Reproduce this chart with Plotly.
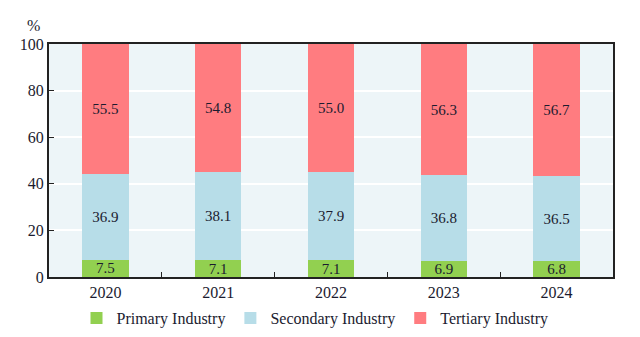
import plotly.graph_objects as go

years = ["2020", "2021", "2022", "2023", "2024"]
primary = [7.5, 7.1, 7.1, 6.9, 6.8]
secondary = [36.9, 38.1, 37.9, 36.8, 36.5]
tertiary = [55.5, 54.8, 55.0, 56.3, 56.7]

font_family = "Liberation Serif"
text_color = "#1b1b2f"

fig = go.Figure()
for name, vals, color in [
    ("Primary Industry", primary, "#92d050"),
    ("Secondary Industry", secondary, "#b7dde8"),
    ("Tertiary Industry", tertiary, "#ff7c80"),
]:
    fig.add_trace(go.Bar(
        x=years, y=vals, name=name, marker=dict(color=color, line=dict(width=0)),
        text=[f"{v:.1f}" for v in vals], textposition="inside", insidetextanchor="middle",
        textfont=dict(family=font_family, size=15, color=text_color),
        constraintext="none", textangle=0,
        width=0.41, cliponaxis=False,
    ))

fig.update_layout(
    barmode="stack",
    width=640, height=337,
    margin=dict(l=49, r=27, t=44, b=60, autoexpand=False),
    paper_bgcolor="white",
    plot_bgcolor="#edf5f8",
    font=dict(family=font_family, size=16, color=text_color),
    legend=dict(orientation="h", x=(315 - 49) / 564, xanchor="center", yref="container",
                y=(337 - 318) / 337, yanchor="middle",
                font=dict(size=16), traceorder="normal", itemwidth=30),
    xaxis=dict(showline=True, linecolor="#222", linewidth=2, mirror=True,
               ticks="inside", tickson="boundaries", ticklen=5, tickcolor="#222",
               showgrid=False, tickfont=dict(size=16), automargin=False),
    yaxis=dict(range=[0, 100], dtick=20, showline=True, linecolor="#222", linewidth=2,
               mirror=True, ticks="inside", ticklen=5, tickcolor="#222",
               gridcolor="white", gridwidth=1.5, tickfont=dict(size=16), zeroline=False,
               automargin=False),
    annotations=[dict(text="%", xref="paper", yref="paper", x=-0.028, y=1.0,
                      yanchor="bottom", xanchor="center", yshift=8, showarrow=False,
                      font=dict(size=16))],
)
fig.write_html("out.html")
